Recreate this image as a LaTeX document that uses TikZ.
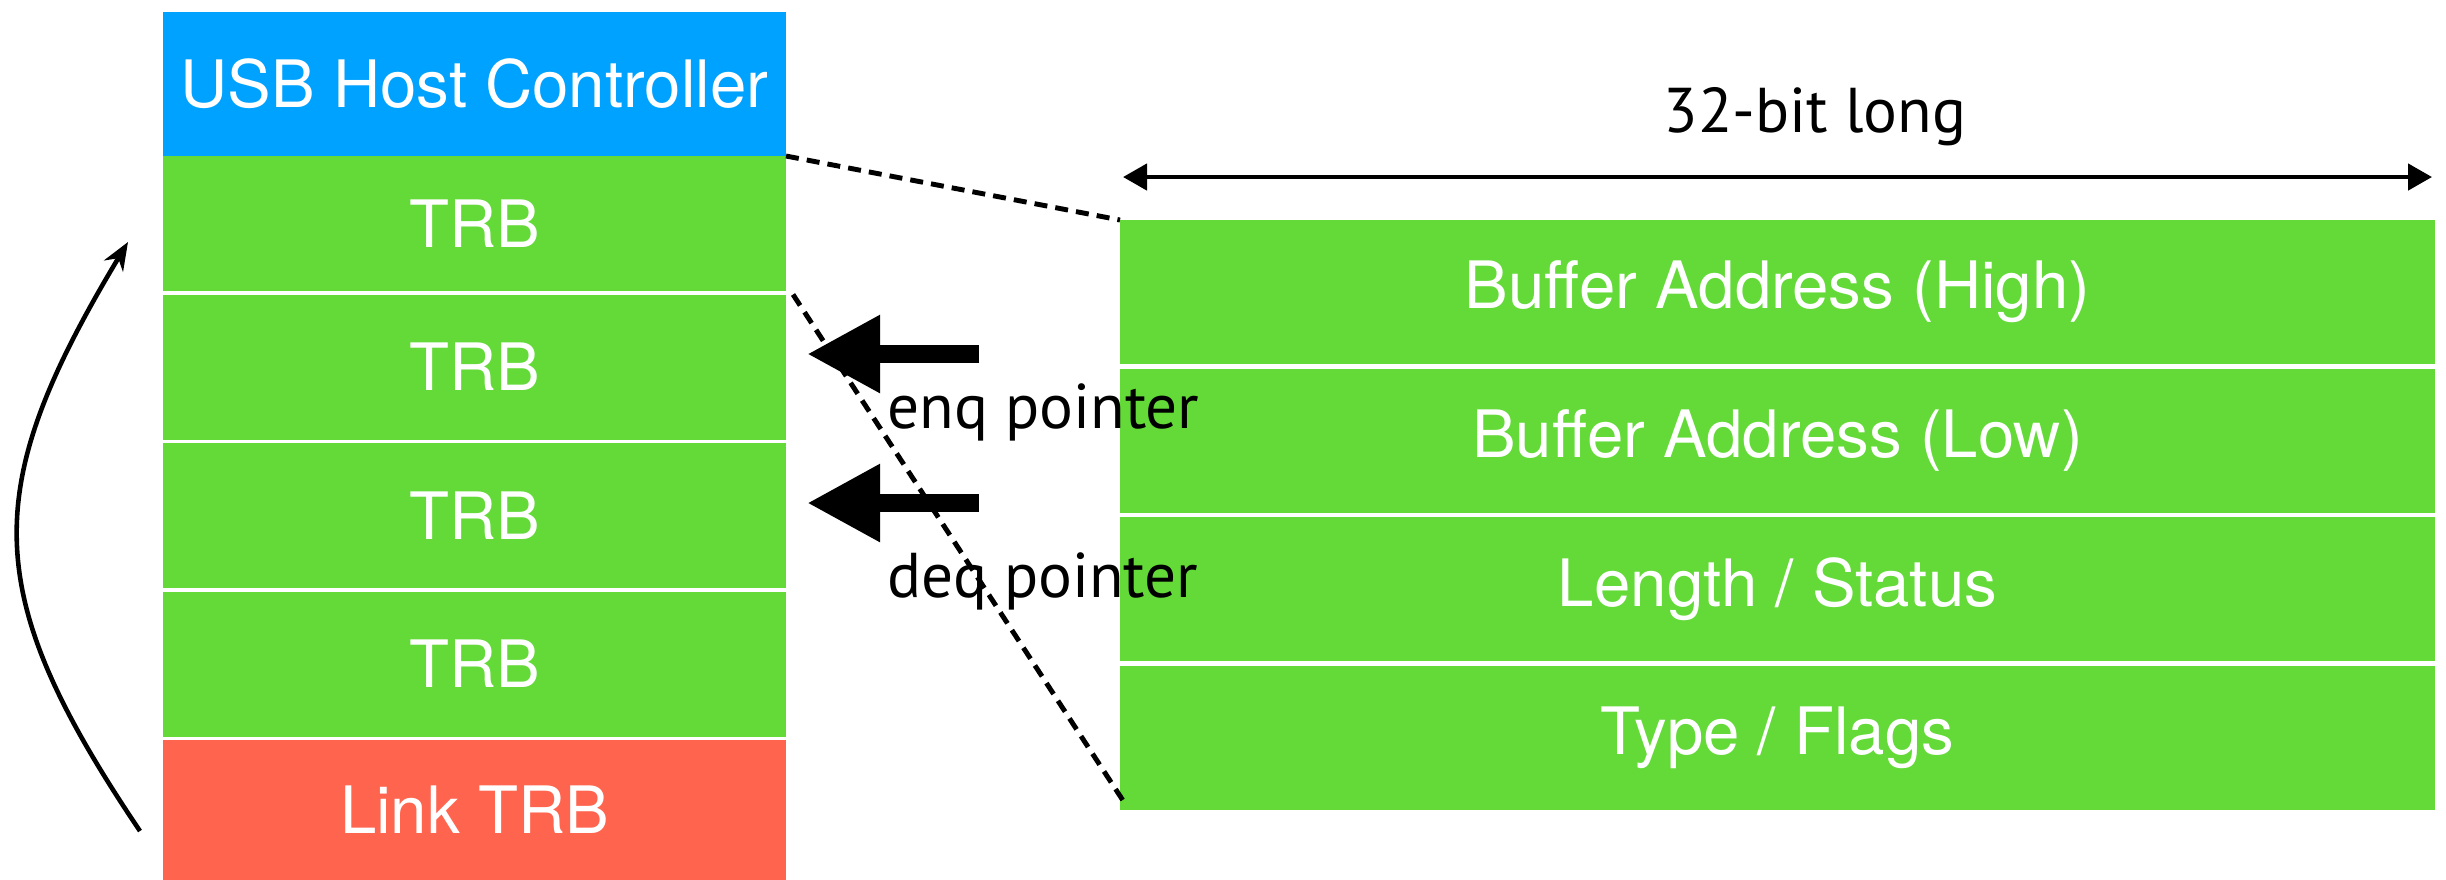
\documentclass[tikz,border=0pt]{standalone}
\usepackage{fontspec}
\setsansfont{TeX Gyre Heros}
\newfontfamily\ptrfont{PT Sans}
\usepackage{xcolor}
\usetikzlibrary{arrows.meta,positioning}

\definecolor{hcblue}{RGB}{0,162,255}
\definecolor{trbgreen}{RGB}{99,218,56}
\definecolor{linkred}{RGB}{255,100,78}

\begin{document}
\begin{tikzpicture}[
  cell/.style={minimum width=6.23cm, minimum height=1.45cm, inner sep=0pt, outer sep=0pt,
    text=white, font=\sffamily\fontsize{18.6}{20}\selectfont},
  trbcell/.style={cell, fill=trbgreen},
  field/.style={cell, fill=trbgreen, minimum width=13.15cm, minimum height=1.44cm},
  zoomline/.style={dashed, dash pattern=on 3.7pt off 2.3pt, line width=1.4pt},
  ptr/.style={-{Triangle[length=7.3mm, width=7.3mm]}, line width=1.8mm},
  ptrlabel/.style={font=\ptrfont\fontsize{18}{20}\selectfont, inner sep=0pt},
  dim/.style={{Triangle[length=2.4mm, width=2.6mm]}-{Triangle[length=2.4mm, width=2.6mm]}, line width=1.3pt},
  wrap/.style={-{Stealth[length=2.8mm, width=2.2mm]}, line width=1.3pt},
  node distance=0.035cm,
]
\useasboundingbox (0,0) rectangle (24.46,-8.79);

% ===== Ring: host controller + TRBs =====
\node[cell, fill=hcblue, minimum height=1.44cm] (usb) at (4.745,-0.84) {USB Host Controller};
\node[trbcell, minimum height=1.35cm, below=0pt of usb] (trb1) {TRB};
\node[trbcell, below=of trb1] (trb2) {TRB};
\node[trbcell, below=of trb2] (trb3) {TRB};
\node[trbcell, below=of trb3] (trb4) {TRB};
\node[cell, fill=linkred, minimum height=1.40cm, below=of trb4] (link) {Link TRB};

% wrap-around from link TRB back to the first TRB
\coordinate (wrapfrom) at (1.40,-8.31);
\coordinate (wrapto) at (1.28,-2.42);
\draw[wrap] (wrapfrom) to[out=124, in=239, looseness=1.25] (wrapto);

% ===== TRB layout =====
\node[field] (bufhi) at (17.775,-2.92) {Buffer Address (High)};
\node[field, below=0.045cm of bufhi] (buflo) {Buffer Address (Low)};
\node[field, below=0.045cm of buflo] (lenst) {Length / Status};
\node[field, below=0.045cm of lenst] (typefl) {Type / Flags};

\draw[dim] ([xshift=0.03cm, yshift=0.43cm]bufhi.north west) -- ([xshift=-0.03cm, yshift=0.43cm]bufhi.north east);
\node[ptrlabel, anchor=base] (width) at (18.15,-1.32) {32-bit long};

% ===== zoom lines =====
\draw[zoomline] (usb.south east) -- (bufhi.north west);
\draw[zoomline] ([xshift=0.07cm]trb2.north east) -- ([xshift=0.03cm, yshift=0.09cm]typefl.south west);

% ===== enq / deq pointers =====
\coordinate (enqtail) at (9.79,-3.54);
\coordinate (enqtip) at (8.07,-3.54);
\coordinate (deqtail) at (9.79,-5.03);
\coordinate (deqtip) at (8.07,-5.03);
\draw[ptr] (enqtail) -- (enqtip);
\draw[ptr] (deqtail) -- (deqtip);
\node[ptrlabel, anchor=base west] (enqlbl) at (8.87,-4.28) {enq pointer};
\node[ptrlabel, anchor=base west] (deqlbl) at (8.87,-5.97) {deq pointer};

\end{tikzpicture}
\end{document}
